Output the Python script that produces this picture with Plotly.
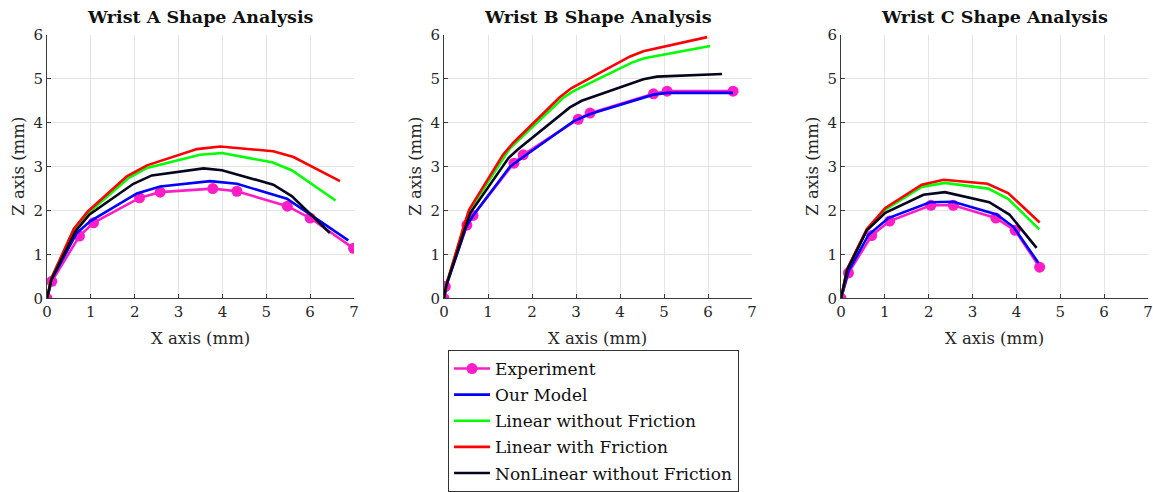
import plotly.graph_objects as go

W, H = 1153, 492

series_names = ["Experiment", "Our Model", "Linear without Friction", "Linear with Friction", "NonLinear without Friction"]
series_colors = ["#ff1dc8", "#0000ff", "#00ff00", "#ff0000", "#05051f"]

# Wrist A
a_exp_x = [0, 0.11, 0.74, 1.06, 2.11, 2.58, 3.78, 4.33, 5.48, 6.0, 6.99]
a_exp_z = [0, 0.39, 1.42, 1.72, 2.29, 2.42, 2.50, 2.44, 2.10, 1.83, 1.14]
a_our_x = [0, 0.1, 0.68, 0.99, 2.05, 2.58, 3.72, 4.33, 5.47, 6.0, 6.87]
a_our_z = [0, 0.42, 1.49, 1.76, 2.39, 2.55, 2.67, 2.61, 2.27, 1.91, 1.32]
a_lin_x = [0, 0.1, 0.61, 0.95, 1.86, 2.28, 3.49, 3.99, 5.13, 5.58, 6.58]
a_lin_z = [0, 0.45, 1.57, 1.95, 2.74, 2.97, 3.27, 3.31, 3.10, 2.92, 2.23]
a_linf_x = [0, 0.1, 0.61, 0.93, 1.82, 2.28, 3.42, 3.95, 5.16, 5.62, 6.68]
a_linf_z = [0, 0.46, 1.58, 1.98, 2.78, 3.03, 3.40, 3.46, 3.35, 3.22, 2.67]
a_nl_x = [0, 0.1, 0.65, 0.97, 1.97, 2.39, 3.57, 3.99, 5.16, 5.58, 6.45]
a_nl_z = [0, 0.43, 1.53, 1.91, 2.61, 2.80, 2.96, 2.92, 2.59, 2.33, 1.49]

# Wrist B
b_exp_x = [0, 0.03, 0.52, 0.66, 1.59, 1.80, 3.05, 3.32, 4.76, 5.07, 6.57]
b_exp_z = [0, 0.27, 1.67, 1.89, 3.08, 3.27, 4.08, 4.22, 4.66, 4.72, 4.72]
b_our_x = [0, 0.05, 0.51, 0.68, 1.50, 1.84, 2.94, 3.32, 4.76, 5.07, 6.57]
b_our_z = [0, 0.28, 1.64, 1.91, 3.00, 3.25, 4.03, 4.20, 4.64, 4.68, 4.68]
b_lin_x = [0, 0.05, 0.46, 0.58, 1.50, 1.80, 2.71, 2.94, 4.27, 4.55, 6.05]
b_lin_z = [0, 0.30, 1.64, 2.00, 3.42, 3.70, 4.57, 4.72, 5.37, 5.47, 5.75]
b_linf_x = [0, 0.05, 0.46, 0.57, 1.34, 1.57, 2.63, 2.90, 4.23, 4.53, 5.98]
b_linf_z = [0, 0.30, 1.68, 2.02, 3.27, 3.54, 4.58, 4.79, 5.51, 5.63, 5.95]
b_nl_x = [0, 0.05, 0.47, 0.60, 1.47, 1.69, 2.86, 3.13, 4.53, 4.84, 6.32]
b_nl_z = [0, 0.29, 1.57, 1.95, 3.20, 3.40, 4.35, 4.50, 4.99, 5.05, 5.11]

# Wrist C
c_exp_x = [0, 0.17, 0.70, 1.11, 2.05, 2.56, 3.53, 3.97, 4.53]
c_exp_z = [0, 0.58, 1.43, 1.76, 2.12, 2.12, 1.83, 1.55, 0.71]
c_our_x = [0, 0.17, 0.63, 1.08, 2.03, 2.56, 3.55, 3.93, 4.50]
c_our_z = [0, 0.62, 1.45, 1.83, 2.19, 2.20, 1.91, 1.63, 0.81]
c_lin_x = [0, 0.14, 0.59, 1.01, 1.84, 2.37, 3.36, 3.81, 4.52]
c_lin_z = [0, 0.66, 1.57, 2.02, 2.54, 2.63, 2.50, 2.27, 1.57]
c_linf_x = [0, 0.14, 0.59, 1.01, 1.84, 2.34, 3.34, 3.81, 4.53]
c_linf_z = [0, 0.67, 1.58, 2.06, 2.59, 2.70, 2.61, 2.40, 1.73]
c_nl_x = [0, 0.14, 0.59, 1.01, 1.88, 2.37, 3.38, 3.84, 4.46]
c_nl_z = [0, 0.65, 1.55, 1.95, 2.36, 2.42, 2.19, 1.91, 1.15]

panel_titles = ["Wrist A Shape Analysis", "Wrist B Shape Analysis", "Wrist C Shape Analysis"]
x_ticks = [0, 1, 2, 3, 4, 5, 6, 7]
z_ticks = [0, 1, 2, 3, 4, 5, 6]

panels = [
    [(a_exp_x, a_exp_z), (a_our_x, a_our_z), (a_lin_x, a_lin_z), (a_linf_x, a_linf_z), (a_nl_x, a_nl_z)],
    [(b_exp_x, b_exp_z), (b_our_x, b_our_z), (b_lin_x, b_lin_z), (b_linf_x, b_linf_z), (b_nl_x, b_nl_z)],
    [(c_exp_x, c_exp_z), (c_our_x, c_our_z), (c_lin_x, c_lin_z), (c_linf_x, c_linf_z), (c_nl_x, c_nl_z)],
]

FONT = "DejaVu Serif"
TXT = "#262626"
x_px = [(47, 354), (444, 752), (841, 1148)]
y_top, y_bot = 35, 299


def px(v):
    return v / W


def py(v):
    return 1 - v / H


ydom = [py(y_bot), py(y_top)]

fig = go.Figure()
for p, data in enumerate(panels):
    xa = "x" if p == 0 else f"x{p+1}"
    ya = "y" if p == 0 else f"y{p+1}"
    for s, (xs, zs) in enumerate(data):
        is_exp = s == 0
        fig.add_trace(go.Scatter(
            x=xs, y=zs, xaxis=xa, yaxis=ya,
            mode="lines+markers" if is_exp else "lines",
            name=series_names[s],
            legendgroup=series_names[s],
            line=dict(color=series_colors[s], width=2.6),
            marker=dict(size=11, color=series_colors[s]),
            showlegend=(p == 0),
        ))
    xd = [px(x_px[p][0]), px(x_px[p][1])]
    common = dict(showgrid=True, gridcolor="#e3e3e3", gridwidth=1,
                  zeroline=False, showline=True, linecolor="#3a3a3a", linewidth=1,
                  ticks="inside", ticklen=4, tickcolor="#3a3a3a", ticklabeloverflow="allow",
                  tickfont=dict(family=FONT, size=15, color=TXT), automargin=False, fixedrange=True)
    axx = dict(domain=xd, range=[0, 7], tickvals=x_ticks, anchor=ya, **common)
    axy = dict(domain=ydom, range=[0, 6], tickvals=z_ticks, anchor=xa, **common)
    fig.update_layout(**{("xaxis" if p == 0 else f"xaxis{p+1}"): axx,
                         ("yaxis" if p == 0 else f"yaxis{p+1}"): axy})
    cx = (xd[0] + xd[1]) / 2
    fig.add_annotation(x=cx, y=py(17), xref="paper", yref="paper", text=f"<b>{panel_titles[p]}</b>",
                       showarrow=False, font=dict(family=FONT, size=17.5, color="#111111"),
                       xanchor="center", yanchor="middle")
    fig.add_annotation(x=cx, y=py(339), xref="paper", yref="paper", text="X axis (mm)",
                       showarrow=False, font=dict(family=FONT, size=16.5, color=TXT),
                       xanchor="center", yanchor="middle")
    fig.add_annotation(x=px(x_px[p][0] - 28), y=(ydom[0] + ydom[1]) / 2, xref="paper", yref="paper",
                       text="Z axis (mm)", textangle=-90,
                       showarrow=False, font=dict(family=FONT, size=16.5, color=TXT),
                       xanchor="center", yanchor="middle")

fig.update_layout(
    width=W, height=H,
    margin=dict(l=0, r=0, t=0, b=0),
    paper_bgcolor="white", plot_bgcolor="white",
    showlegend=True,
    legend=dict(x=px(448), y=py(351), xanchor="left", yanchor="top",
                bordercolor="#333333", borderwidth=1, bgcolor="white",
                font=dict(family=FONT, size=17, color="#111111"),
                itemwidth=36, tracegroupgap=1, traceorder="grouped"),
)
fig.write_html(
    "out.html",
    config={"displayModeBar": False, "staticPlot": True},
    post_script=("document.body.style.margin='0';"
                 "document.body.style.overflow='hidden';"
                 "document.documentElement.style.overflow='hidden';"),
)
